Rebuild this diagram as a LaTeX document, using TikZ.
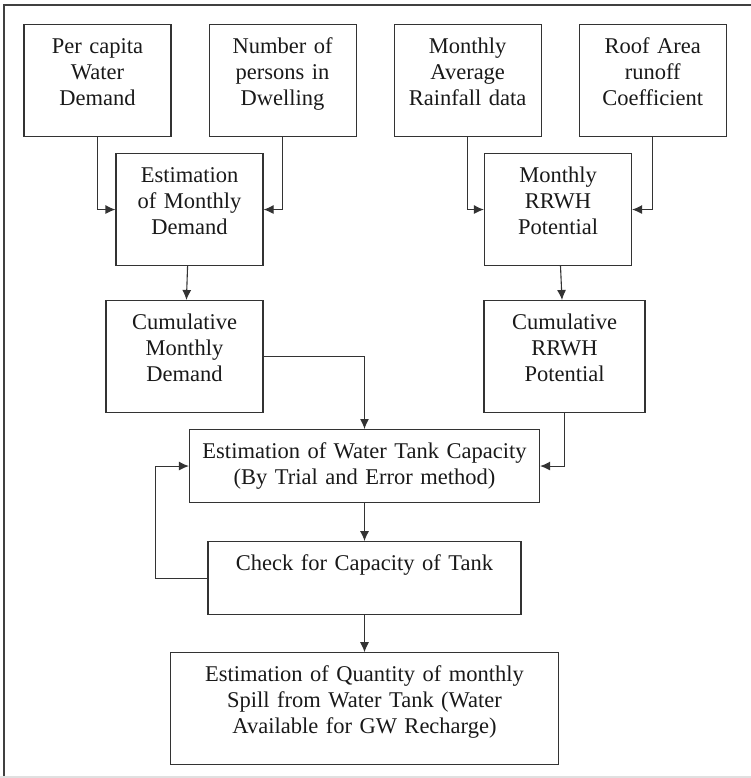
\documentclass[tikz,border=0pt]{standalone}
\usepackage{fontspec}
\setmainfont{Liberation Serif}
\usepackage{tikz}
\usetikzlibrary{positioning,arrows.meta}
\tikzstyle{block}=[draw=black!80, line width=1.1pt, shape=rectangle, align=center,
        text width=147pt, inner sep=0pt, text height=29pt, text depth=83pt,
        text=black!90, font=\fontsize{22.5}{26}\selectfont]
\tikzstyle{flat}=[block, text depth=44pt]

\begin{document}
\begin{tikzpicture}[x=1pt, y=-1pt, >={Latex[length=10pt, width=9pt]}]
        \useasboundingbox (0,0) rectangle (751,778);
        \draw[black!75, line width=1.1pt] (4,778) -- (4,5) -- (751,5);
        \draw[black!12, line width=2pt] (0,777) -- (751,777);

        % inputs
        \node[block, anchor=north] (0) at (97.5,24) {Per capita\\Water\\Demand};
        \node[block, right=37pt of 0] (1) {Number of\\persons in\\Dwelling};
        \node[block, right=37pt of 1] (2) {Monthly\\Average\\Rainfall data};
        \node[block, right=37pt of 2] (3) {Roof Area\\runoff\\Coefficient};

        \node[block, anchor=north] (4) at (189.5,153) {Estimation\\of Monthly\\Demand};
        \node[block, anchor=north] (5) at (558,153) {Monthly\\RRWH\\Potential};
        \node[block, anchor=north, text width=157pt] (6) at (184.5,300)
            {Cumulative\\Monthly\\Demand};
        \node[block, anchor=north, text width=161pt] (7) at (564.5,300)
            {Cumulative\\RRWH\\Potential};

        % tank
        \node[flat, anchor=north, text width=350pt] (8) at (364.5,429)
            {Estimation of Water Tank Capacity\\(By Trial and Error method)};
        \node[flat, text width=313pt, below=38pt of 8] (9) {Check for Capacity of Tank};
        \node[block, text width=388pt, below=37pt of 9] (10)
            {Estimation of Quantity of monthly\\Spill from Water Tank (Water\\Available for GW Recharge)};

        \draw[->, line width=1.1pt, black!80] (0) |- (4);
        \draw[->, line width=1.1pt, black!80] (1) |- (4);
        \draw[->, line width=1.1pt, black!80] (2) |- (5);
        \draw[->, line width=1.1pt, black!80] (3) |- (5);
        \draw[->, line width=1.1pt, black!80] (4) -- (6);
        \draw[->, line width=1.1pt, black!80] (5) -- (7);
        \draw[->, line width=1.1pt, black!80] (6) -| (8);
        \draw[->, line width=1.1pt, black!80] (7) |- (8);
        \draw[->, line width=1.1pt, black!80] (8) -- (9);
        \draw[->, line width=1.1pt, black!80] (9) -- (10);
        \draw[->, line width=1.1pt, black!80] (9.west) -- ++(-52pt,0) |- (8.west);
    \end{tikzpicture}
\end{document}
